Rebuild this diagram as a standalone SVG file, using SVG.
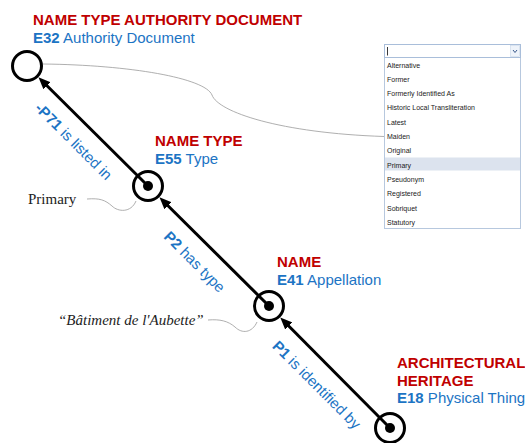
<svg xmlns="http://www.w3.org/2000/svg" width="525" height="443" viewBox="0 0 525 443">
<style>
.ring{fill:none;stroke:#000;stroke-width:3}
.dot{fill:#000}
.t{font-family:"Liberation Sans",Arial,sans-serif;font-size:15px}
.red{fill:#C00000;font-weight:bold}
.blue{fill:#1C74C4}
.b{font-weight:bold}
.edge{stroke:#000;stroke-width:3;fill:none;marker-end:url(#arr)}
.note{fill:none;stroke:#9A9A9A;stroke-width:0.8}
.ann{font-family:"Liberation Serif","Times New Roman",serif;font-size:15px;fill:#222}
.dd{font-family:"Liberation Sans",Arial,sans-serif;font-size:7px;fill:#1a1a1a}
</style>
<defs>
<marker id="arr" viewBox="0 0 12 10" refX="6" refY="5" markerWidth="12" markerHeight="10" markerUnits="userSpaceOnUse" orient="auto">
<path d="M0,0 L12,5 L0,10 z" fill="#000"/>
</marker>
</defs>
<rect width="525" height="443" fill="#fff"/>

<g id="connectors">
<line class="edge" x1="390" y1="428" x2="284.5" y2="321.7"/>
<line class="edge" x1="269" y1="306" x2="163.7" y2="201.5"/>
<line class="edge" x1="148" y1="186" x2="42.7" y2="81.5"/>
<text class="t blue" transform="translate(70,145) rotate(45)" text-anchor="middle"><tspan class="b">-P71</tspan> is listed in</text>
<text class="t blue" transform="translate(191,265.5) rotate(45)" text-anchor="middle"><tspan class="b">P2</tspan> has type</text>
<text class="t blue" transform="translate(313,388.5) rotate(45)" text-anchor="middle"><tspan class="b">P1</tspan> is identified by</text>
<path class="note" d="M43,64 C130,65 205,78 212,95 C218,112 280,133 384,136.5"/>
<path class="note" d="M87,199 C100,198 105,200 112,206 C118,212 131,213 136,201"/>
<path class="note" d="M208,320 C220,319 228,321 235,327 C242,334 252,333 257,322"/>
</g>

<g id="e32">
<circle class="ring" cx="27" cy="66" r="14.5"/>
<text class="t red" x="33" y="25">NAME TYPE AUTHORITY DOCUMENT</text>
<text class="t blue" x="33" y="43"><tspan class="b">E32</tspan> Authority Document</text>
</g>

<g id="e55">
<circle class="ring" cx="148" cy="186" r="14.5"/>
<circle class="dot" cx="148" cy="186" r="5"/>
<text class="t red" x="155" y="146">NAME TYPE</text>
<text class="t blue" x="155" y="164"><tspan class="b">E55</tspan> Type</text>
</g>

<g id="e41">
<circle class="ring" cx="269" cy="306" r="14.5"/>
<circle class="dot" cx="269" cy="306" r="5"/>
<text class="t red" x="277" y="267">NAME</text>
<text class="t blue" x="277" y="285"><tspan class="b">E41</tspan> Appellation</text>
</g>

<g id="e18">
<circle class="ring" cx="390" cy="428" r="14.5"/>
<circle class="dot" cx="390" cy="428" r="5"/>
<text class="t red" x="397" y="368">ARCHITECTURAL</text>
<text class="t red" x="397" y="386">HERITAGE</text>
<text class="t blue" x="397" y="403"><tspan class="b">E18</tspan> Physical Thing</text>
</g>

<g id="primary-note">
<text class="ann" x="28" y="204" font-size="16">Primary</text>
</g>

<g id="name-note">
<text class="ann" x="58" y="325" font-style="italic">“Bâtiment de l'Aubette”</text>
</g>

<g id="dropdown">
<rect x="384.5" y="44.5" width="136" height="184" fill="#fff" stroke="#B7C8DE"/>
<rect x="384.5" y="44.5" width="136" height="13" fill="#fff" stroke="#A9BEDA"/>
<rect x="510.5" y="45.5" width="9" height="11" fill="#EEF3FA" stroke="#C9D6E8" stroke-width="0.6"/>
<path d="M513,50 L515,52.5 L517,50" fill="none" stroke="#3A5A8C" stroke-width="1"/>
<line x1="387.5" y1="47" x2="387.5" y2="55.5" stroke="#222" stroke-width="0.9"/>
<rect x="385" y="157.5" width="135" height="13" fill="#DCE3EE"/>
<text class="dd" x="387" y="67.5">Alternative</text>
<text class="dd" x="387" y="81.8">Former</text>
<text class="dd" x="387" y="96.1">Formerly Identified As</text>
<text class="dd" x="387" y="110.4">Historic Local Transliteration</text>
<text class="dd" x="387" y="124.7">Latest</text>
<text class="dd" x="387" y="139">Maiden</text>
<text class="dd" x="387" y="153.3">Original</text>
<text class="dd" x="387" y="167.6">Primary</text>
<text class="dd" x="387" y="181.9">Pseudonym</text>
<text class="dd" x="387" y="196.2">Registered</text>
<text class="dd" x="387" y="210.5">Sobriquet</text>
<text class="dd" x="387" y="224.8">Statutory</text>
</g>
</svg>
